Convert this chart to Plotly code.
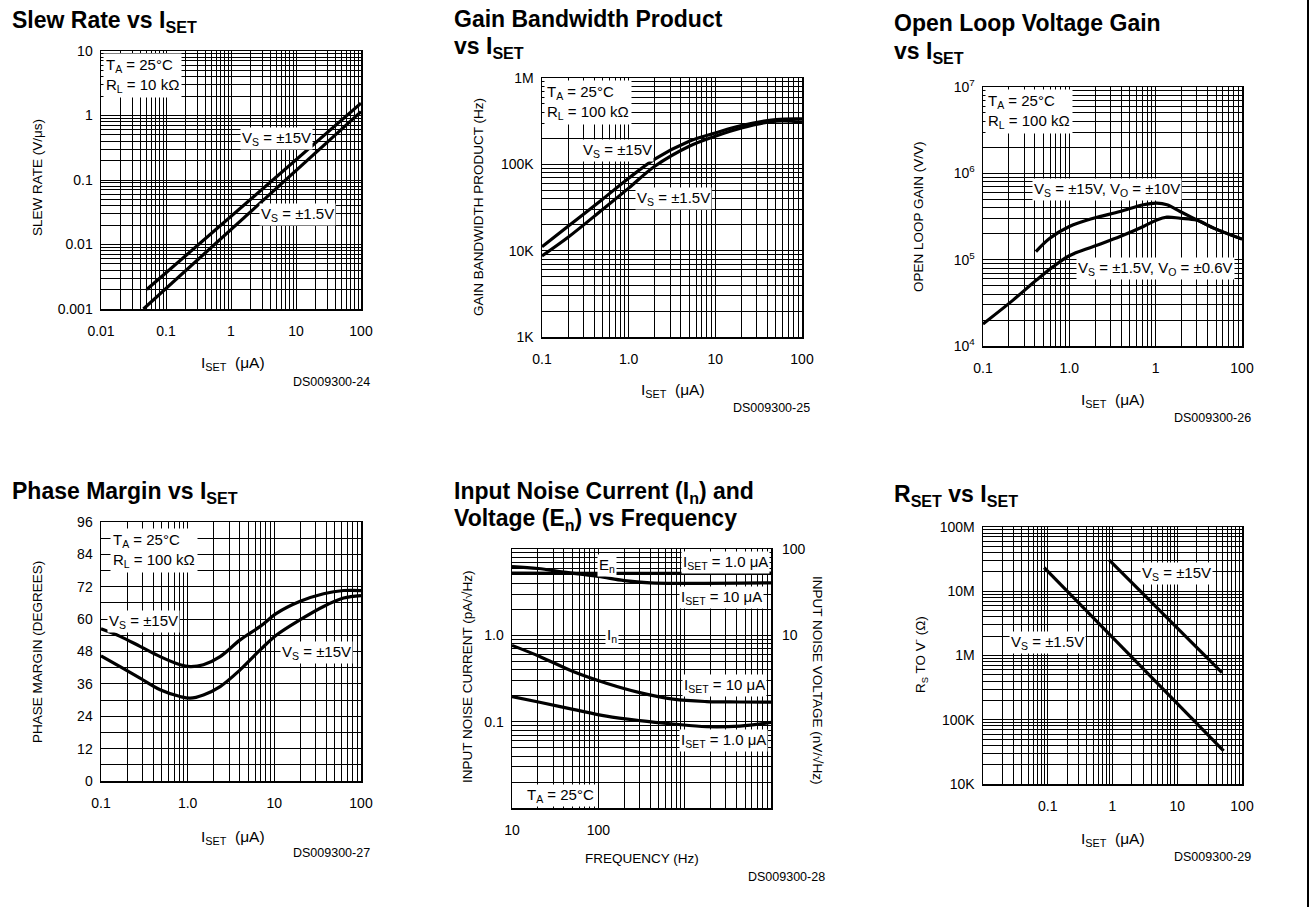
import plotly.graph_objects as go

W, H = 1314, 907
FONT = "Liberation Sans, Arial, sans-serif"

# ---------------- data ----------------
# Panel 1: Slew rate vs I_SET
SR_X_15 = [0.0505, 100]
SR_Y_15 = [0.0020, 1.55]
SR_X_1P5 = [0.0449, 100]
SR_Y_1P5 = [0.0010, 1.15]

# Panel 2: Gain bandwidth product vs I_SET
GBW_X = [0.1, 0.2, 0.5, 1, 2, 5, 10, 20, 50, 100]
GBW_15 = [11100, 19200, 39500, 69000, 115000, 185000, 231000, 282000, 330000, 336000]
GBW_1P5 = [8700, 14300, 30000, 53000, 95000, 162000, 212000, 264000, 316000, 308000]

# Panel 3: Open loop gain vs I_SET
OLG_X_15 = [0.41, 0.594, 1.0, 1.9, 3.87, 7.2, 10.3, 13.5, 19.2, 30, 47, 100]
OLG_Y_15 = [124000, 177000, 242000, 302000, 361000, 432000, 451000, 432000, 361000, 289000, 232000, 173000]
OLG_X_1P5 = [0.1, 0.223, 0.416, 0.65, 1.0, 1.9, 3.87, 7.2, 10.3, 13.5, 19.2, 30, 47, 100]
OLG_Y_1P5 = [18000, 34000, 58000, 83000, 111000, 142000, 185000, 242000, 289000, 311000, 302000, 286000, 232000, 173000]

# Panel 4: Phase margin vs I_SET
PM_X = [0.1, 0.166, 0.282, 0.481, 0.818, 1.07, 1.52, 2.37, 4.03, 6.87, 10.7, 19.9, 37, 63, 100]
PM_UPPER = [56.4, 53.6, 49.9, 46.1, 43.1, 42.4, 43.1, 46.1, 52.3, 57.3, 62.2, 66.6, 69.4, 70.6, 70.6]
PM_LOWER = [46.4, 42.4, 38.1, 33.8, 31.3, 30.7, 31.9, 35.0, 41.2, 48.6, 54.2, 59.8, 64.7, 67.8, 68.7]

# Panel 5: Input noise vs frequency
EN_X_1 = [10, 100, 1000, 10000]
EN_Y_1 = [52.5, 52.3, 52.3, 52.5]
EN_X_10 = [10, 20, 40, 100, 200, 400, 1000, 10000]
EN_Y_10 = [62.5, 59.5, 54, 48, 43, 40.5, 40, 40.5]
IN_X = [10, 20.9, 51, 124, 302, 737, 1796, 4365, 10000]
IN_Y_10 = [0.765, 0.57, 0.381, 0.279, 0.217, 0.182, 0.171, 0.169, 0.168]
IN_Y_1 = [0.195, 0.168, 0.139, 0.116, 0.103, 0.094, 0.0875, 0.089, 0.098]

# Panel 6: R_SET vs I_SET
RS_X_1P5 = [0.088, 52]
RS_Y_1P5 = [23.4e6, 32.9e3]
RS_X_15 = [0.893, 49]
RS_Y_15 = [30.4e6, 542e3]

# tick labels
P1_XT, P1_XL = [0.01, 0.1, 1, 10, 100], ["0.01", "0.1", "1", "10", "100"]
P1_YT, P1_YL = [0.001, 0.01, 0.1, 1, 10], ["0.001", "0.01", "0.1", "1", "10"]
P2_XT, P2_XL = [0.1, 1, 10, 100], ["0.1", "1.0", "10", "100"]
P2_YT, P2_YL = [1e3, 1e4, 1e5, 1e6], ["1K", "10K", "100K", "1M"]
P3_XT, P3_XL = [0.1, 1, 10, 100], ["0.1", "1.0", "1", "100"]
P3_YT, P3_YL = [1e4, 1e5, 1e6, 1e7], ["10<sup>4</sup>", "10<sup>5</sup>", "10<sup>6</sup>", "10<sup>7</sup>"]
P4_XT, P4_XL = [0.1, 1, 10, 100], ["0.1", "1.0", "10", "100"]
P4_YT = [0, 12, 24, 36, 48, 60, 72, 84, 96]
P4_YGRID = [0, 6, 12, 18, 24, 30, 36, 42, 48, 54, 60, 66, 72, 78, 84, 90, 96]
P5_XT, P5_XL = [10, 100], ["10", "100"]
P5_YT, P5_YL = [0.1, 1], ["0.1", "1.0"]
P5_Y2T, P5_Y2L = [10, 100], ["10", "100"]
P6_XT, P6_XL = [0.1, 1, 10, 100], ["0.1", "1", "10", "100"]
P6_YT, P6_YL = [1e4, 1e5, 1e6, 1e7, 1e8], ["10K", "100K", "1M", "10M", "100M"]


# ---------------- helpers ----------------
def fx(px):
    return px / W


def fy(py):
    return 1 - py / H


def log_grid(lo, hi, labeled_vals, labeled_text):
    vals, texts = [], []
    for e in range(lo, hi + 1):
        for m in range(1, 10):
            if e == hi and m > 1:
                break
            v = m * 10.0 ** e
            vals.append(v)
            t = ""
            for lv, lt in zip(labeled_vals, labeled_text):
                if abs(v - lv) <= 1e-9 * max(abs(lv), 1e-12):
                    t = lt
            texts.append(t)
    return vals, texts


AXCOMMON = dict(showgrid=True, gridcolor="black", gridwidth=1, showline=True,
                linecolor="black", linewidth=1.5, mirror=True, ticks="",
                zeroline=False, tickfont=dict(family=FONT, size=14, color="black"),
                fixedrange=True, automargin=False)


def xlog(lo, hi, x0, x1, anchor, tv, tt):
    vals, texts = log_grid(lo, hi, tv, tt)
    return dict(type="log", range=[lo, hi], domain=[fx(x0), fx(x1)], anchor=anchor,
                tickmode="array", tickvals=vals, ticktext=texts, ticklabelstandoff=9,
                **AXCOMMON)


def ylog(lo, hi, y0, y1, anchor, tv, tt):
    vals, texts = log_grid(lo, hi, tv, tt)
    return dict(type="log", range=[lo, hi], domain=[fy(y1), fy(y0)], anchor=anchor,
                tickmode="array", tickvals=vals, ticktext=texts, ticklabelstandoff=4,
                **AXCOMMON)


fig = go.Figure()
LINE = dict(color="black", width=3.2)


def add(x, y, xa, ya):
    fig.add_trace(go.Scatter(x=x, y=y, xaxis=xa, yaxis=ya, mode="lines",
                             line=LINE, line_shape="spline", hoverinfo="skip"))


add(SR_X_15, SR_Y_15, "x", "y")
add(SR_X_1P5, SR_Y_1P5, "x", "y")
add(GBW_X, GBW_15, "x2", "y2")
add(GBW_X, GBW_1P5, "x2", "y2")
add(OLG_X_15, OLG_Y_15, "x3", "y3")
add(OLG_X_1P5, OLG_Y_1P5, "x3", "y3")
add(PM_X, PM_UPPER, "x4", "y4")
add(PM_X, PM_LOWER, "x4", "y4")
add(EN_X_1, EN_Y_1, "x5", "y7")
add(EN_X_10, EN_Y_10, "x5", "y7")
add(IN_X, IN_Y_10, "x5", "y5")
add(IN_X, IN_Y_1, "x5", "y5")
add(RS_X_1P5, RS_Y_1P5, "x6", "y6")
add(RS_X_15, RS_Y_15, "x6", "y6")

p4_text = [str(v) if v in P4_YT else "" for v in P4_YGRID]

fig.update_layout(
    width=W, height=H, margin=dict(l=0, r=0, t=0, b=0, pad=0, autoexpand=False),
    paper_bgcolor="white", plot_bgcolor="white", showlegend=False,
    font=dict(family=FONT, color="black"),
    xaxis=xlog(-2, 2, 101, 361, "y", P1_XT, P1_XL),
    yaxis=ylog(-3, 1, 51, 309, "x", P1_YT, P1_YL),
    xaxis2=xlog(-1, 2, 542, 802, "y2", P2_XT, P2_XL),
    yaxis2=ylog(3, 6, 78, 337, "x2", P2_YT, P2_YL),
    xaxis3=xlog(-1, 2, 983, 1242, "y3", P3_XT, P3_XL),
    yaxis3=ylog(4, 7, 87, 346, "x3", P3_YT, P3_YL),
    xaxis4=xlog(-1, 2, 101, 361, "y4", P4_XT, P4_XL),
    yaxis4=dict(type="linear", range=[0, 96], domain=[fy(781), fy(522)], anchor="x4",
                tickmode="array", tickvals=P4_YGRID, ticktext=p4_text,
                ticklabelstandoff=4, **AXCOMMON),
    xaxis5=xlog(1, 4, 512, 771, "y5", P5_XT, P5_XL),
    yaxis5=ylog(-2, 1, 549, 808, "x5", P5_YT, P5_YL),
    yaxis7=dict(type="log", range=[-1, 2], overlaying="y5", side="right", anchor="x5",
                tickmode="array", tickvals=P5_Y2T, ticktext=P5_Y2L, showgrid=False,
                showline=False, ticks="", ticklabelstandoff=10, zeroline=False,
                tickfont=dict(family=FONT, size=14, color="black"), fixedrange=True,
                automargin=False),
    xaxis6=xlog(-2, 2, 983, 1242, "y6", P6_XT, P6_XL),
    yaxis6=ylog(4, 8, 527, 784, "x6", P6_YT, P6_YL),
)

anns = []


def ann(text, x, y, size=15, xa="center", ya="middle", bg=None, angle=0, bold=False,
        align="center", pad=1):
    if bold:
        text = "<b>" + text + "</b>"
    d = dict(text=text, x=fx(x), y=fy(y), xref="paper", yref="paper", showarrow=False,
             xanchor=xa, yanchor=ya, textangle=angle, align=align,
             font=dict(family=FONT, size=size, color="black"), borderpad=pad)
    if bg:
        d["bgcolor"] = bg
    anns.append(d)


# titles
TS = 23
ann("Slew Rate vs I<sub>SET</sub>", 10, 21, TS, "left", bold=True)
ann("Gain Bandwidth Product", 452, 19, TS, "left", bold=True)
ann("vs I<sub>SET</sub>", 452, 48, TS, "left", bold=True)
ann("Open Loop Voltage Gain", 892, 23, TS, "left", bold=True)
ann("vs I<sub>SET</sub>", 892, 53, TS, "left", bold=True)
ann("Phase Margin vs I<sub>SET</sub>", 10, 492, TS, "left", bold=True)
ann("Input Noise Current (I<sub>n</sub>) and", 452, 492, TS, "left", bold=True)
ann("Voltage (E<sub>n</sub>) vs Frequency", 452, 519, TS, "left", bold=True)
ann("R<sub>SET</sub> vs I<sub>SET</sub>", 892, 495, TS, "left", bold=True)

# conditions boxes
ann("T<sub>A</sub> = 25°C<br>R<sub>L</sub> = 10 kΩ", 103, 53, 15, "left", "top", "white", align="left", pad=2)
ann("T<sub>A</sub> = 25°C<br>R<sub>L</sub> = 100 kΩ", 544, 80, 15, "left", "top", "white", align="left", pad=2)
ann("T<sub>A</sub> = 25°C<br>R<sub>L</sub> = 100 kΩ", 985, 89, 15, "left", "top", "white", align="left", pad=2)
ann("T<sub>A</sub> = 25°C<br>R<sub>L</sub> = 100 kΩ", 110, 528, 15, "left", "top", "white", align="left", pad=2)
ann("T<sub>A</sub> = 25°C", 560, 795, 15, bg="white")

# curve labels
ann("V<sub>S</sub> = ±15V", 276, 138, 15, bg="white")
ann("V<sub>S</sub> = ±1.5V", 297, 214, 15, bg="white")
ann("V<sub>S</sub> = ±15V", 617, 151, 15, bg="white")
ann("V<sub>S</sub> = ±1.5V", 673, 198, 15, bg="white")
ann("V<sub>S</sub> = ±15V, V<sub>O</sub> = ±10V", 1107, 189, 15, bg="white")
ann("V<sub>S</sub> = ±1.5V, V<sub>O</sub> = ±0.6V", 1155, 268, 15, bg="white")
ann("V<sub>S</sub> = ±15V", 143, 621, 15, bg="white")
ann("V<sub>S</sub> = ±15V", 316, 652, 15, bg="white")
ann("E<sub>n</sub>", 607, 565, 15, bg="white")
ann("I<sub>SET</sub> = 1.0 μA", 725, 562, 15, bg="white")
ann("I<sub>SET</sub> = 10 μA", 721, 597, 15, bg="white")
ann("I<sub>n</sub>", 612, 635, 15, bg="white")
ann("I<sub>SET</sub> = 10 μA", 724, 685, 15, bg="white")
ann("I<sub>SET</sub> = 1.0 μA", 723, 740, 15, bg="white")
ann("V<sub>S</sub> = ±15V", 1176, 573, 15, bg="white")
ann("V<sub>S</sub> = ±1.5V", 1047, 642, 15, bg="white")

# axis titles
AS = 13.5
ann("SLEW RATE (V/μs)", 37, 178, AS, angle=-90)
ann("GAIN BANDWIDTH PRODUCT (Hz)", 479, 207, AS, angle=-90)
ann("OPEN LOOP GAIN (V/V)", 919, 217, AS, angle=-90)
ann("PHASE MARGIN (DEGREES)", 37, 652, AS, angle=-90)
ann("INPUT NOISE CURRENT (pA/√Hz)", 467, 677, AS, angle=-90)
ann("INPUT NOISE VOLTAGE (nV/√Hz)", 818, 680, AS, angle=90)
ann("R<sub>S</sub> TO V<sup>-</sup> (Ω)", 920, 655, AS, angle=-90)

XT = "I<sub>SET</sub>  (μA)"
ann(XT, 233, 364, 15.5)
ann(XT, 673, 390, 15.5)
ann(XT, 1113, 400, 15.5)
ann(XT, 233, 837, 15.5)
ann("FREQUENCY (Hz)", 642, 858, 13.5)
ann(XT, 1113, 839, 15.5)

# figure IDs
ann("DS009300-24", 372, 382, 12.5, "right")
ann("DS009300-25", 812, 408, 12.5, "right")
ann("DS009300-26", 1253, 418, 12.5, "right")
ann("DS009300-27", 372, 853, 12.5, "right")
ann("DS009300-28", 827, 877, 12.5, "right")
ann("DS009300-29", 1253, 857, 12.5, "right")

fig.update_layout(annotations=anns)
fig.add_shape(type="line", xref="paper", yref="paper", x0=fx(1308), x1=fx(1308),
              y0=0, y1=1, line=dict(color="black", width=2))

fig.write_html("out.html",
               config={"displayModeBar": False, "staticPlot": True},
               post_script="document.body.style.margin='0px';"
                           "document.body.style.overflow='hidden';")
